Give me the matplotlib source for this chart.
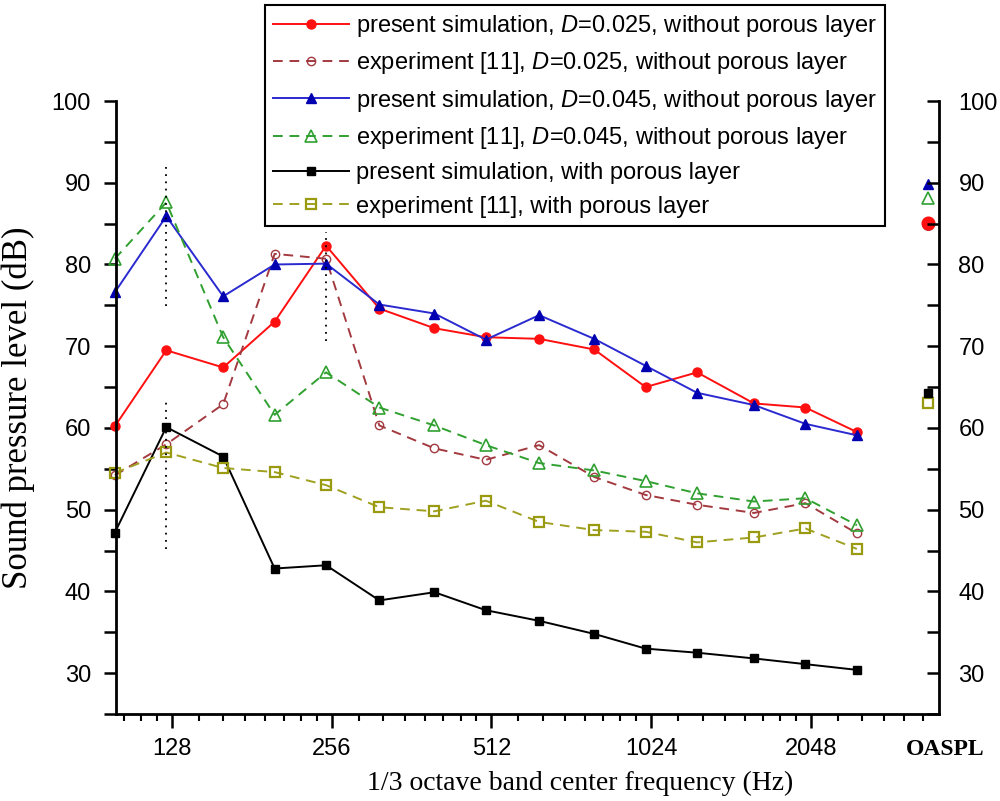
import matplotlib
matplotlib.use('Agg')
import matplotlib.pyplot as plt

plt.rcParams['font.family'] = ['Liberation Sans', 'DejaVu Sans']
plt.rcParams['mathtext.fontset'] = 'custom'
plt.rcParams['mathtext.rm'] = 'Liberation Sans'
plt.rcParams['mathtext.it'] = 'Liberation Sans:italic'

# 1/3 octave band centres (Hz)
freqs = [100, 125, 160, 200, 250, 315, 400, 500, 630, 800, 1000, 1250, 1600, 2000, 2500]

sim_025 = [60.2, 69.5, 67.4, 73.0, 82.3, 74.6, 72.2, 71.1, 70.9, 69.6, 65.0, 66.8, 63.0, 62.5, 59.5]
exp_025 = [54.2, 58.0, 62.9, 81.3, 80.7, 60.3, 57.5, 56.1, 57.9, 54.0, 51.8, 50.6, 49.6, 50.8, 47.1]
sim_045 = [76.6, 85.9, 76.1, 80.0, 80.1, 75.1, 74.0, 70.8, 73.8, 70.9, 67.6, 64.3, 62.8, 60.5, 59.1]
exp_045 = [80.7, 87.6, 71.1, 61.6, 66.8, 62.5, 60.3, 57.9, 55.7, 54.8, 53.5, 52.0, 51.0, 51.4, 48.1]
sim_porous = [47.2, 60.1, 56.5, 42.8, 43.2, 38.9, 39.9, 37.7, 36.4, 34.8, 33.0, 32.5, 31.8, 31.1, 30.4]
exp_porous = [54.5, 57.0, 55.1, 54.6, 53.0, 50.3, 49.8, 51.1, 48.5, 47.5, 47.3, 46.0, 46.6, 47.7, 45.2]

# overall levels, same order as the series above
oaspl = [85.1, 85.0, 89.8, 88.1, 64.3, 63.1]
oaspl_x = 3400

# dotted guide lines (freq, low, high)
guide_freqs = [125, 125, 250]
guide_low = [74.9, 45.2, 70.6]
guide_high = [92.5, 63.7, 84.0]

xticks = [128, 256, 512, 1024, 2048]
yticks = [30, 40, 50, 60, 70, 80, 90, 100]

labels = [
    'present simulation, $\\mathit{D}$=0.025, without porous layer',
    'experiment [11], $\\mathit{D}$=0.025, without porous layer',
    'present simulation, $\\mathit{D}$=0.045, without porous layer',
    'experiment [11], $\\mathit{D}$=0.045, without porous layer',
    'present simulation, with porous layer',
    'experiment [11], with porous layer',
]

fig = plt.figure(figsize=(10, 8.01), dpi=100)
ax = fig.add_axes([0.116, 0.1086, 0.823, 0.7653])

dash = (5, 3.5)
styles = [
    dict(color='#ff1010', ls='-', marker='o', ms=6.5, mfc='#ff1010', mec='#ff1010'),
    dict(color='#a33a40', ls='--', dashes=dash, marker='o', ms=6, mfc='none', mec='#a33a40', mew=1.0),
    dict(color='#2a2ad0', ls='-', marker='^', ms=7, mfc='#0000b0', mec='#0000b0'),
    dict(color='#30a030', ls='--', dashes=dash, marker='^', ms=8, mfc='none', mec='#30a030', mew=1.2),
    dict(color='black', ls='-', marker='s', ms=5.5, mfc='black', mec='black'),
    dict(color='#a0a020', ls='--', dashes=dash, marker='s', ms=7.5, mfc='none', mec='#9a9a10', mew=1.6),
]
series = [sim_025, exp_025, sim_045, exp_045, sim_porous, exp_porous]
oaspl_scale = [1.4, 1.4, 1.0, 1.0, 1.0, 1.0]

handles = []
for vals, st, lab in zip(series, styles, labels):
    h, = ax.plot(freqs, vals, lw=1.4, label=lab, clip_on=False, **st)
    handles.append(h)

# OASPL points (experiment D=0.025 sits under the simulation point)
order = [1, 0, 3, 2, 5, 4]
for i in order:
    st = dict(styles[i])
    st.pop('ls'); st.pop('dashes', None)
    st['ms'] = st['ms'] * oaspl_scale[i]
    ax.plot([oaspl_x], [oaspl[i]], ls='none', clip_on=False, **st)

for f, lo, hi in zip(guide_freqs, guide_low, guide_high):
    ax.plot([f, f], [lo, hi], color='black', lw=1.3, ls=(0, (1, 3)))

ax.set_xscale('log', base=2)
ax.set_xlim(100.5, 3570)
ax.set_ylim(25, 100)

minor = []
for b in [64, 128, 256, 512, 1024, 2048]:
    for k in range(1, 8):
        v = b * (1 + k / 8)
        if 100.5 < v < 3570:
            minor.append(v)
ax.set_xticks(xticks, [str(t) for t in xticks])
ax.set_xticks(minor, minor=True)
ax.xaxis.set_minor_formatter(plt.NullFormatter())
ax.set_yticks(yticks)
ax.set_yticks(range(25, 101, 5), minor=True)

ax.spines['top'].set_visible(False)
ax.spines['right'].set_visible(False)
for s in ['left', 'bottom']:
    ax.spines[s].set_linewidth(2)
ax.tick_params(axis='y', which='major', direction='out', length=9, width=1.8, labelsize=17, pad=9)
ax.tick_params(axis='y', which='minor', direction='out', length=9, width=1.8)
ax.tick_params(axis='x', which='major', direction='out', length=10, width=1.8, labelsize=17, pad=7)
ax.tick_params(axis='x', which='minor', direction='out', length=5, width=1.5)

ax2 = ax.twinx()
ax2.set_ylim(25, 100)
ax2.set_yticks(yticks)
ax2.set_yticks(range(25, 101, 5), minor=True)
for s in ['top', 'left', 'bottom']:
    ax2.spines[s].set_visible(False)
ax2.spines['right'].set_linewidth(2)
ax2.tick_params(axis='y', which='both', direction='in', length=9, width=1.8, labelsize=17, pad=14)

ax.text(1.008, -0.040, 'OASPL', transform=ax.transAxes, ha='center', va='top',
        family='Liberation Serif', fontweight='bold', fontsize=17)

ax.set_ylabel('Sound pressure level (dB)', family='Liberation Serif', fontsize=25)
ax.yaxis.set_label_coords(-0.098, 0.5)
ax.set_xlabel('1/3 octave band center frequency (Hz)', family='Liberation Serif', fontsize=20)
ax.xaxis.set_label_coords(0.564, -0.093)

leg = ax.legend(handles=handles, loc='upper left', bbox_to_anchor=(0.265, 0.994),
                bbox_transform=fig.transFigure, fontsize=17, handlelength=3.2,
                handletextpad=0.3, labelspacing=0.48, borderpad=0.35, borderaxespad=0,
                fancybox=False, framealpha=1, edgecolor='black')
leg.get_frame().set_linewidth(1.5)

fig.savefig('out.png', dpi=100)
